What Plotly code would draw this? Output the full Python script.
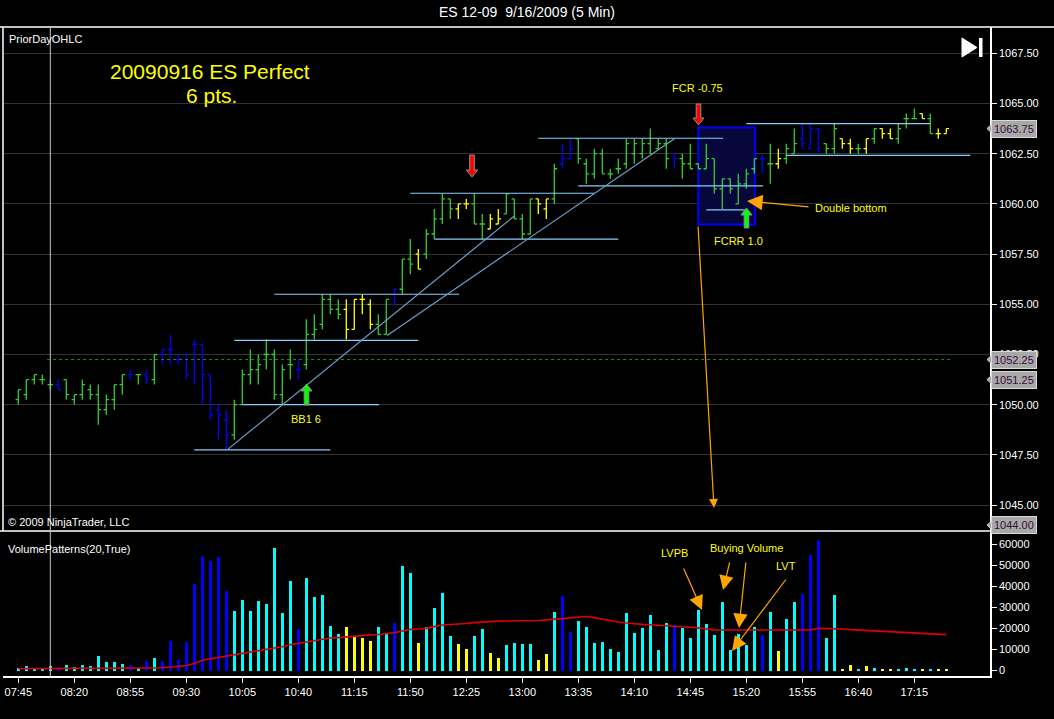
import plotly.graph_objects as go
import pandas as pd

# ES 12-09, 5 minute bars for 9/16/2009 (day session + 16:30 re-open)
session1 = pd.date_range("2009-09-16 07:45", "2009-09-16 16:15", freq="5min")
session2 = pd.date_range("2009-09-16 16:30", "2009-09-16 17:35", freq="5min")
times = [t.strftime("%H:%M") for t in list(session1) + list(session2)]

tick_labels = ["07:45", "08:20", "08:55", "09:30", "10:05", "10:40", "11:15", "11:50", "12:25",
               "13:00", "13:35", "14:10", "14:45", "15:20", "15:55", "16:40", "17:15"]

opens = [1050.25, 1050.5, 1051.25, 1051.25, 1051.0, 1051.0, 1051.25, 1050.25, 1050.5, 1050.75,
         1050.5, 1049.75, 1050.25, 1051.0, 1051.5, 1051.5, 1051.5, 1051.25, 1052.5, 1052.75,
         1052.25, 1052.5, 1053.0, 1053.0, 1051.5, 1049.75, 1049.25, 1048.5, 1050.0, 1051.5,
         1051.75, 1052.5, 1052.5, 1050.5, 1052.0, 1051.75, 1052.0, 1053.5, 1054.0, 1055.25,
         1054.75, 1054.75, 1053.75, 1055.25, 1055.0, 1054.0, 1053.5, 1055.0, 1055.75, 1057.25,
         1057.5, 1057.5, 1058.5, 1059.25, 1060.25, 1059.75, 1060.0, 1060.0, 1059.0, 1058.75,
         1059.0, 1059.5, 1060.25, 1059.25, 1058.5, 1060.25, 1059.75, 1060.25, 1062.0, 1062.25,
         1063.25, 1062.0, 1061.5, 1062.5, 1061.5, 1061.75, 1062.0, 1062.5, 1062.5, 1063.0,
         1062.75, 1063.0, 1062.5, 1062.25, 1062.0, 1062.0, 1061.75, 1062.25, 1060.75, 1061.25,
         1060.0, 1061.0, 1061.75, 1062.25, 1062.0, 1062.0, 1062.25, 1062.5, 1063.25, 1062.75,
         1063.75, 1063.0, 1062.75, 1063.25, 1063.0, 1062.75, 1062.75, 1063.25, 1063.75, 1063.5,
         1063.25, 1064.25, 1064.25, 1064.5, 1064.25, 1063.5, 1063.5]
highs = [1050.75, 1051.25, 1051.5, 1051.5, 1051.25, 1051.25, 1051.25, 1050.5, 1051.25, 1051.0,
         1051.0, 1050.5, 1051.0, 1051.5, 1051.75, 1051.5, 1051.75, 1052.5, 1052.75, 1053.5,
         1052.5, 1052.5, 1053.25, 1053.0, 1051.5, 1050.0, 1049.75, 1050.25, 1051.75, 1052.75,
         1052.5, 1053.25, 1052.75, 1052.0, 1052.75, 1052.25, 1054.25, 1054.5, 1055.5, 1055.5,
         1055.25, 1055.25, 1055.25, 1055.5, 1055.25, 1054.5, 1055.25, 1055.75, 1057.25, 1058.25,
         1057.75, 1058.75, 1059.75, 1060.5, 1060.25, 1060.0, 1060.25, 1060.5, 1059.5, 1059.5,
         1059.75, 1060.5, 1060.25, 1059.5, 1060.25, 1060.25, 1060.25, 1062.0, 1063.0, 1063.25,
         1063.25, 1062.25, 1062.75, 1062.75, 1061.75, 1062.25, 1063.25, 1063.25, 1063.25, 1063.75,
         1063.25, 1063.25, 1062.5, 1062.5, 1063.0, 1062.0, 1063.0, 1062.25, 1061.25, 1061.25,
         1061.5, 1061.75, 1062.25, 1062.5, 1063.0, 1062.75, 1063.0, 1063.75, 1064.0, 1064.0,
         1063.75, 1063.0, 1064.0, 1063.25, 1063.25, 1063.0, 1063.25, 1063.75, 1063.75, 1063.75,
         1064.0, 1064.5, 1064.75, 1064.5, 1064.5, 1063.75, 1063.75]
lows = [1050.0, 1050.25, 1051.0, 1051.0, 1050.75, 1050.75, 1050.25, 1050.0, 1050.25, 1050.25,
        1049.0, 1049.5, 1049.75, 1050.5, 1051.25, 1051.0, 1051.0, 1051.0, 1052.0, 1052.0,
        1052.0, 1051.25, 1051.0, 1050.0, 1049.25, 1048.25, 1047.75, 1048.25, 1050.0, 1051.0,
        1051.0, 1051.75, 1050.25, 1050.0, 1051.25, 1051.25, 1051.75, 1053.25, 1053.75, 1054.5,
        1054.25, 1053.25, 1053.75, 1054.5, 1053.75, 1053.5, 1053.5, 1055.0, 1055.5, 1056.5,
        1056.75, 1057.25, 1058.25, 1059.0, 1059.25, 1059.25, 1059.75, 1059.0, 1058.25, 1058.75,
        1059.0, 1059.5, 1059.25, 1058.25, 1058.5, 1059.5, 1059.25, 1060.0, 1061.75, 1062.25,
        1062.0, 1061.0, 1061.25, 1061.5, 1061.25, 1061.5, 1061.75, 1062.0, 1062.25, 1062.5,
        1062.75, 1061.75, 1061.75, 1061.25, 1061.75, 1061.75, 1061.75, 1060.5, 1059.75, 1060.5,
        1060.0, 1060.75, 1061.5, 1061.5, 1061.0, 1061.75, 1062.0, 1062.5, 1062.75, 1062.75,
        1062.5, 1062.5, 1062.5, 1062.75, 1062.5, 1062.5, 1062.5, 1063.0, 1063.25, 1063.25,
        1063.0, 1063.75, 1064.25, 1064.25, 1063.5, 1063.25, 1063.5]
closes = [1050.75, 1051.25, 1051.5, 1051.25, 1051.0, 1050.75, 1050.5, 1050.5, 1051.0, 1050.5,
          1049.75, 1050.25, 1051.0, 1051.5, 1051.5, 1051.5, 1051.25, 1052.5, 1052.75, 1052.75,
          1052.25, 1051.5, 1053.0, 1051.5, 1049.5, 1049.5, 1048.5, 1050.0, 1051.5, 1051.75,
          1052.0, 1052.5, 1050.5, 1051.75, 1052.0, 1051.75, 1053.5, 1053.75, 1055.25, 1054.75,
          1054.5, 1053.75, 1055.25, 1055.25, 1054.0, 1053.5, 1055.25, 1055.75, 1057.25, 1057.0,
          1056.75, 1058.5, 1059.25, 1060.25, 1059.75, 1060.0, 1060.0, 1059.0, 1059.0, 1059.25,
          1059.25, 1060.5, 1059.25, 1058.5, 1060.25, 1060.0, 1060.25, 1061.75, 1062.25, 1062.75,
          1062.25, 1061.5, 1062.5, 1061.5, 1061.5, 1061.75, 1063.0, 1063.0, 1063.0, 1062.5,
          1063.0, 1062.25, 1062.25, 1062.0, 1061.75, 1061.75, 1062.25, 1060.75, 1061.25, 1060.75,
          1061.0, 1061.5, 1062.25, 1062.25, 1062.0, 1062.25, 1062.75, 1063.0, 1063.0, 1063.75,
          1062.75, 1062.75, 1063.75, 1063.0, 1062.75, 1062.75, 1063.25, 1063.75, 1063.5, 1063.25,
          1063.75, 1064.25, 1064.25, 1064.25, 1063.5, 1063.5, 1063.75]

# bar state from the indicator: g = trend, b = climax/reversal, y = quiet
state = list("gggggbgggg" "ggggbgbgbb" "bbbbbbbggg" "gggggbgggg" "gyyyyggbgg"
             "yggggyyggy" "yggggyygbb" "gggggggggg" "ggbggggggg" "gggbgyggbb"
             "bggyygygyy" "gggygyy")

volume = [1400, 1900, 1000, 600, 1900, 1100, 2400, 1600, 2400, 1900,
          7100, 3800, 3800, 3300, 2400, 1400, 4300, 5700, 4300, 13800,
          5200, 13300, 41000, 54300, 51900, 53800, 37600, 28100, 33300, 28100,
          32900, 31400, 58100, 27100, 42400, 19500, 43800, 34800, 35700, 21000,
          17100, 20500, 15700, 15200, 13800, 20500, 17100, 22400, 49500, 46200,
          12900, 20500, 29500, 36700, 16200, 12400, 10000, 16200, 19500, 8100,
          5700, 11900, 12900, 12400, 12400, 4800, 7600, 27600, 35200, 18100,
          23300, 20500, 12900, 13300, 10000, 8600, 27100, 17600, 20000, 26200,
          9500, 22500, 21700, 20300, 15600, 28800, 22200, 17000, 32600, 9900,
          17500, 12300, 20800, 17000, 27900, 9400, 24600, 32600, 36400, 54800,
          61900, 15600, 35900, 900, 2800, 900, 1900, 1400, 900, 900,
          900, 1400, 900, 300, 900, 300, 300]

volume_avg = [900, 900, 900, 900, 900, 900, 950, 950, 950, 1000,
              1000, 1000, 1050, 1050, 1100, 1100, 1150, 1200, 1300, 1600,
              2000, 2400, 3300, 4800, 5600, 6200, 6800, 7600, 8100, 8700,
              9400, 10000, 10600, 11300, 12200, 12900, 13500, 14100, 14800, 15400,
              15600, 16000, 16300, 16700, 16900, 17100, 17500, 17900, 18700, 19500,
              19700, 20000, 20800, 21600, 21800, 21900, 22300, 22700, 23000, 23200,
              23400, 23500, 23500, 23500, 23600, 23700, 24000, 24300, 24800, 25200,
              25500, 25600, 25100, 24300, 23600, 23000, 22500, 22100, 21900, 21700,
              21500, 21400, 21100, 20800, 20500, 20200, 19700, 19200, 19200, 19200,
              19000, 18900, 19000, 19100, 19100, 19100, 19100, 19100, 19100, 19200,
              20000, 20000, 19900, 19700, 19400, 19200, 19000, 18900, 18600, 18400,
              18200, 18000, 17800, 17600, 17300, 17000, 17000]

prior_close = 1052.25
price_tags = [1063.75, 1052.25, 1051.25, 1044.00]

# drawn objects: (from bar, to bar, price) and (bar, price, bar, price)
h_lines = [(22.0, 39.0, 1047.75), (28.0, 45.1, 1050.0), (27.0, 50.0, 1053.2),
           (32.0, 55.1, 1055.5), (52.0, 75.0, 1058.25), (49.0, 72.1, 1060.53),
           (65.0, 88.1, 1063.27), (70.0, 93.1, 1060.9), (86.0, 90.8, 1059.7),
           (91.0, 114.0, 1064.0), (96.0, 119.0, 1062.42)]
diag_lines = [(26.1, 1047.75, 62.0, 1059.4), (46.1, 1053.45, 82.1, 1063.27)]
fcr_box = (85.0, 92.1, 1058.98, 1063.8)

price_col = {"g": "#32CD32", "b": "#0000FF", "y": "#FFFF00"}
vol_col = {"g": "#00FFFF", "b": "#0000FF", "y": "#FFFF00"}
FONT = "Liberation Sans, Arial, sans-serif"

W, H = 1054, 719
L, R, T, B = 3, 64, 27, 43
PW, PH = W - L - R, H - T - B


def px_x(px):
    return (px - L) / PW


def px_y(py):
    return (H - B - py) / PH


split = px_y(531)
idx = list(range(len(times)))

fig = go.Figure()
for s in ["g", "b", "y"]:
    sel = [i for i in idx if state[i] == s]
    fig.add_trace(go.Ohlc(
        x=sel, open=[opens[i] for i in sel], high=[highs[i] for i in sel],
        low=[lows[i] for i in sel], close=[closes[i] for i in sel],
        increasing=dict(line=dict(color=price_col[s], width=1.3)),
        decreasing=dict(line=dict(color=price_col[s], width=1.3)),
        tickwidth=0.35, yaxis="y", showlegend=False, hoverinfo="skip"))

fig.add_trace(go.Bar(x=idx, y=volume, marker=dict(color=[vol_col[s] for s in state], line_width=0),
                     width=0.38, yaxis="y2", showlegend=False))
fig.add_trace(go.Scatter(x=idx, y=volume_avg, mode="lines", line=dict(color="#E00000", width=1.6),
                         yaxis="y2", showlegend=False))

shapes = []
# frame lines
shapes.append(dict(type="line", xref="paper", yref="paper", x0=px_x(0), x1=px_x(W), y0=1, y1=1,
                   line=dict(color="white", width=1.5)))
shapes.append(dict(type="line", xref="paper", yref="paper", x0=0, x1=0, y0=split, y1=1,
                   line=dict(color="white", width=1.5)))
shapes.append(dict(type="line", xref="paper", yref="paper", x0=px_x(0), x1=1, y0=split, y1=split,
                   line=dict(color="white", width=1.5)))
# cursor line
shapes.append(dict(type="line", xref="x", yref="paper", x0=4, x1=4, y0=0, y1=1,
                   line=dict(color="#C8C8C8", width=1)))
# prior day close
shapes.append(dict(type="line", xref="x", yref="y", x0=3.6, x1=116.5, y0=prior_close, y1=prior_close,
                   line=dict(color="#00A000", width=1, dash="dot")))
# FCR box
shapes.append(dict(type="rect", xref="x", yref="y", x0=fcr_box[0], x1=fcr_box[1],
                   y0=fcr_box[2], y1=fcr_box[3], layer="between",
                   fillcolor="#07073C", line=dict(color="#0000FF", width=2)))
for x0, x1, p in h_lines:
    shapes.append(dict(type="line", xref="x", yref="y", x0=x0, x1=x1, y0=p, y1=p,
                       line=dict(color="#87CEFA", width=1.2)))
for x0, p0, x1, p1 in diag_lines:
    shapes.append(dict(type="line", xref="x", yref="y", x0=x0, x1=x1, y0=p0, y1=p1,
                       line=dict(color="#6F9FC8", width=1.2)))


def block_arrow(cx, y_tail, y_tip, fill):
    d = 1 if y_tip > y_tail else -1
    neck = y_tip - d * 7
    pts = [(cx - 2.3, y_tail), (cx + 2.3, y_tail), (cx + 2.3, neck), (cx + 5.5, neck),
           (cx, y_tip), (cx - 5.5, neck), (cx - 2.3, neck)]
    path = "M" + " L".join(f"{px_x(a):.5f},{px_y(b):.5f}" for a, b in pts) + " Z"
    return dict(type="path", xref="paper", yref="paper", path=path, fillcolor=fill,
                line=dict(color="#909090", width=1))


shapes.append(block_arrow(472, 155, 177, "#FF0000"))
shapes.append(block_arrow(698.5, 104, 125, "#FF0000"))
shapes.append(block_arrow(306.5, 405, 384, "#00FF00"))
shapes.append(block_arrow(746.5, 228, 208, "#00FF00"))

# "go to end" icon
tri = [(962, 38), (977, 47.5), (962, 57)]
shapes.append(dict(type="path", xref="paper", yref="paper",
                   path="M" + " L".join(f"{px_x(a):.5f},{px_y(b):.5f}" for a, b in tri) + " Z",
                   fillcolor="white", line=dict(color="white", width=1)))
shapes.append(dict(type="rect", xref="paper", yref="paper", x0=px_x(979), x1=px_x(982.5),
                   y0=px_y(57), y1=px_y(38), fillcolor="white", line=dict(width=0)))

annotations = []


def label(text, x, y, color, size=11, anchor="center"):
    annotations.append(dict(text=text, xref="paper", yref="paper", x=px_x(x), y=px_y(y),
                            xanchor=anchor, yanchor="middle", showarrow=False,
                            font=dict(color=color, size=size, family=FONT)))


label("ES 12-09&nbsp; 9/16/2009 (5 Min)", 527, 12, "white", 14)
label("PriorDayOHLC", 7, 39, "white", 11, "left")
label("20090916 ES Perfect", 210, 71, "#FFFF00", 21)
label("6 pts.", 211, 95, "#FFFF00", 21)
label("FCR -0.75", 697, 88, "#FFFF00")
label("BB1 6", 306, 419, "#FFFF00")
label("FCRR 1.0", 738, 241, "#FFFF00")
label("Double bottom", 813, 208, "#FFFF00", 11, "left")
label("© 2009 NinjaTrader, LLC", 6, 522, "white", 11, "left")
label("VolumePatterns(20,True)", 6, 549, "white", 11, "left")
label("LVPB", 674, 553, "#FFFF00")
label("Buying Volume", 746, 548, "#FFFF00")
label("LVT", 786, 566, "#FFFF00")

# orange pointer arrows: head, tail (pixels)
pointers = [((714, 508), (698, 225), 1.5), ((747, 201), (810, 207), 2.6),
            ((702, 610), (683, 567), 2.4), ((723, 590), (730, 561), 2.4),
            ((739, 628), (746, 561), 2.4), ((732, 651), (787, 578), 2.4)]
for (hx, hy), (tx, ty), size in pointers:
    annotations.append(dict(xref="paper", yref="paper", x=px_x(hx), y=px_y(hy),
                            ax=tx - hx, ay=ty - hy, text="", showarrow=True,
                            arrowhead=2, arrowsize=size, arrowwidth=1.2, arrowcolor="#FFA500"))

# price tags on the axis
for p in price_tags:
    annotations.append(dict(text=f"{p:.2f}", xref="paper", yref="y", x=px_x(1014), y=p,
                            xanchor="center", yanchor="middle", showarrow=False,
                            bgcolor="#A8A8A8", bordercolor="#D8D8D8", borderwidth=1, borderpad=2,
                            font=dict(color="#3A0A3A", size=11, family=FONT)))
    shapes.append(dict(type="path", xref="paper", yref="y",
                       path=f"M{px_x(987):.5f},{p} L{px_x(995):.5f},{p + 0.36} "
                            f"L{px_x(995):.5f},{p - 0.36} Z",
                       fillcolor="#A8A8A8", line=dict(color="#D8D8D8", width=1)))

fig.update_layout(
    width=W, height=H, margin=dict(l=L, r=R, t=T, b=B),
    paper_bgcolor="black", plot_bgcolor="black",
    font=dict(family=FONT, color="white", size=11),
    showlegend=False, bargap=0,
    xaxis=dict(range=[(L - 18.3) / 8, (990 - 18.3) / 8], anchor="y2",
               tickvals=[times.index(t) for t in tick_labels], ticktext=tick_labels,
               ticks="outside", ticklen=5, tickcolor="white", showgrid=False, zeroline=False,
               showline=True, linecolor="white", linewidth=1.5,
               tickfont=dict(color="white", size=11), rangeslider=dict(visible=False)),
    yaxis=dict(domain=[split, 1], range=[1065 - (531 - 103.5) / 20.08, 1065 + (103.5 - T) / 20.08],
               side="right", anchor="x", tickvals=[1045 + 2.5 * k for k in range(10)],
               tickformat=".2f", ticks="outside", ticklen=5, tickcolor="white",
               showline=True, linecolor="white", linewidth=1.5,
               showgrid=True, gridcolor="#333333", gridwidth=1, zeroline=False,
               tickfont=dict(color="white", size=11)),
    yaxis2=dict(domain=[0, split], range=[-(676 - 670.5) / 21.08 * 10000, (670.5 - 531) / 21.08 * 10000],
                side="right", anchor="x", tickvals=[10000 * k for k in range(7)],
                tickformat="d", ticks="outside", ticklen=5, tickcolor="white",
                showline=True, linecolor="white", linewidth=1.5,
                showgrid=False, zeroline=False, tickfont=dict(color="white", size=11)),
    shapes=shapes, annotations=annotations,
)

# the page keeps the browser's default 8px body margin otherwise
fig.write_html("out.html", config={"displayModeBar": False},
               post_script="document.body.style.margin='0px';document.body.style.background='black';")
